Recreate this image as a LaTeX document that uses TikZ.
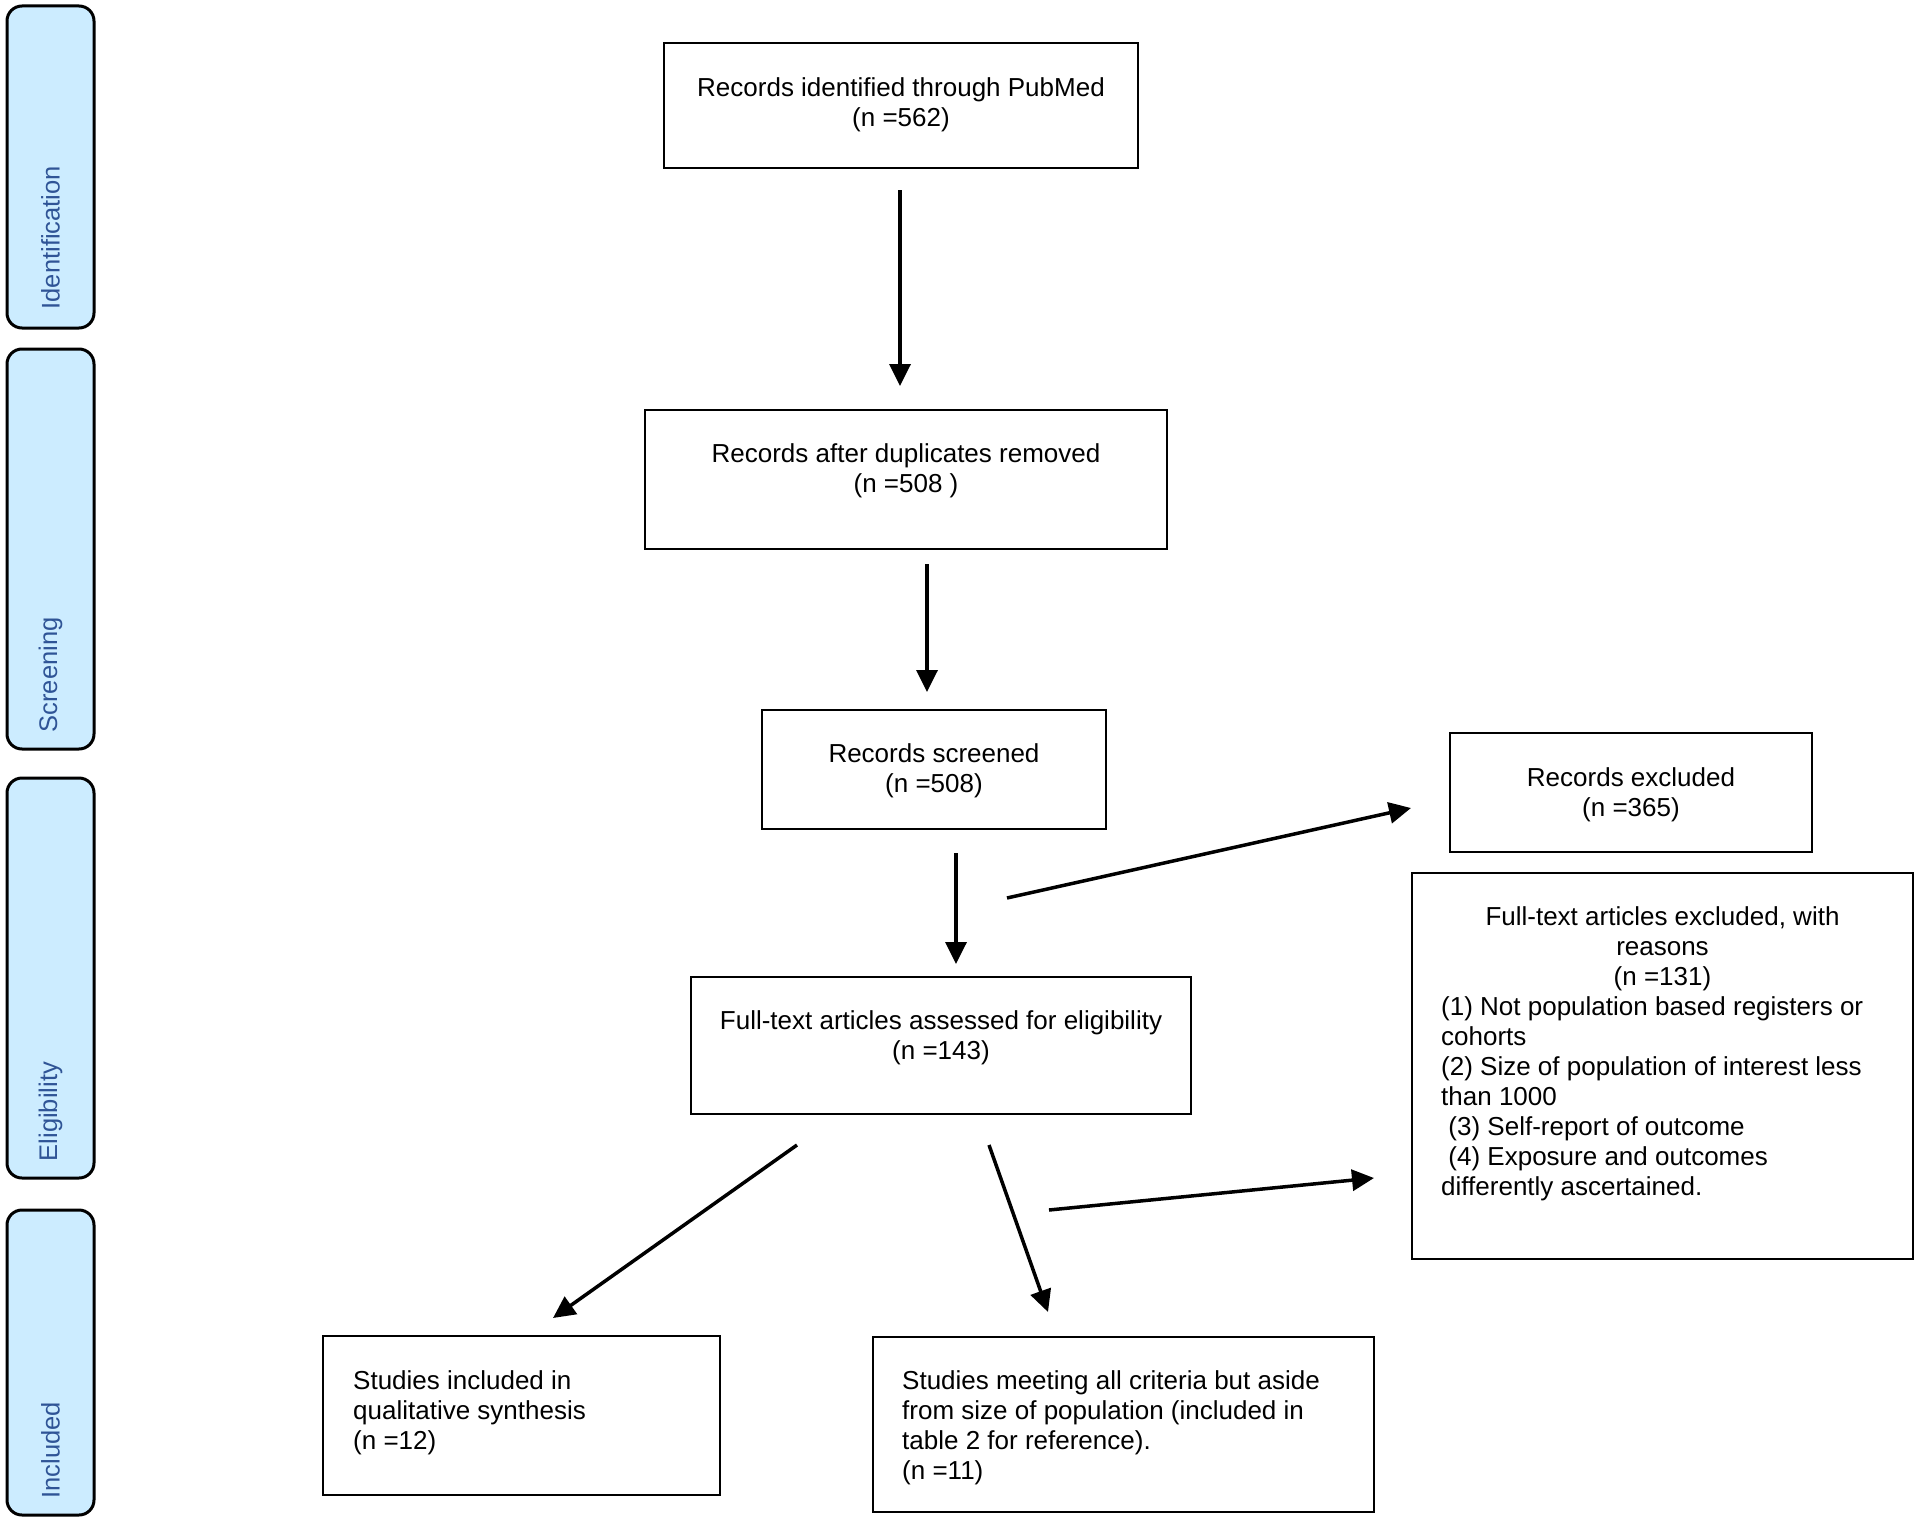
\documentclass[tikz,border=0pt]{standalone}
\usepackage{fontspec}
\setmainfont{Liberation Sans}
\usetikzlibrary{arrows.meta,calc}
\definecolor{sidefill}{RGB}{204,236,255}
\definecolor{sidetext}{RGB}{47,84,150}
\begin{document}
\begin{tikzpicture}[x=1pt,y=-1pt,
  box/.style={draw=black, line width=2.7pt, inner sep=0pt},
  side/.style={draw=black, fill=sidefill, line width=3pt, rounded corners=15pt, inner sep=0pt, minimum width=87pt},
  txt/.style={font=\fontsize{26}{30}\selectfont, inner sep=0pt, align=center},
  ltxt/.style={font=\fontsize{26}{30}\selectfont, inner sep=0pt, align=left, anchor=west},
  stxt/.style={font=\fontsize{25.5}{30}\selectfont, text=sidetext, rotate=90, anchor=west, inner sep=0pt},
  arr/.style={line width=3.5pt, -{Triangle[length=22pt,width=21pt]}}]

\useasboundingbox (0,0) rectangle (1920,1520);

% side phase boxes
\node[side, minimum height=322pt] (s1) at (50.5,167) {};
\node[side, minimum height=400pt] (s2) at (50.5,549) {};
\node[side, minimum height=400pt] (s3) at (50.5,978) {};
\node[side, minimum height=305pt] (s4) at (50.5,1362.5) {};
\node[stxt] (l1) at ($(s1.south)+(0,-20)$) {Identification};
\node[stxt] (l2) at ($(s2.south)+(0,-18)$) {Screening};
\node[stxt] (l3) at ($(s3.south)+(0,-18)$) {Eligibility};
\node[stxt] (l4) at ($(s4.south)+(0,-18)$) {Included};

% boxes
\node[box, minimum width=474pt, minimum height=125pt] (b1) at (901,105.5) {};
\node[box, minimum width=522pt, minimum height=139pt] (b2) at (906,479.5) {};
\node[box, minimum width=344pt, minimum height=119pt] (b3) at (934,769.5) {};
\node[box, minimum width=362pt, minimum height=119pt] (b4) at (1631,792.5) {};
\node[box, minimum width=501pt, minimum height=386pt] (b5) at (1662.5,1066) {};
\node[box, minimum width=500pt, minimum height=137pt] (b6) at (941,1045.5) {};
\node[box, minimum width=397pt, minimum height=159pt] (b7) at (521.5,1415.5) {};
\node[box, minimum width=501pt, minimum height=175pt] (b8) at (1123.5,1424.5) {};

% texts
\node[txt] (t1) at (901,104.5) {Records identified through PubMed\\(n =562)};
\node[txt] (t2) at (906,470.5) {Records after duplicates removed\\(n =508 )};
\node[txt] (t3) at (934,771) {Records screened\\(n =508)};
\node[txt] (t4) at (1631,794.5) {Records excluded\\(n =365)};
\node[txt] (t5a) at (1662.5,949) {Full-text articles excluded, with\\reasons\\(n =131)};
\node[ltxt] (t5b) at (1441,1099) {(1) Not population based registers or\\cohorts\\(2) Size of population of interest less\\than 1000\\\hspace*{0.28em}(3) Self-report of outcome\\\hspace*{0.28em}(4) Exposure and outcomes\\differently ascertained.};
\node[txt] (t6) at (941,1038) {Full-text articles assessed for eligibility\\(n =143)};
\node[ltxt] (t7) at (353,1413) {Studies included in\\qualitative synthesis\\(n =12)};
\node[ltxt] (t8) at (902,1428) {Studies meeting all criteria but aside\\from size of population (included in\\table 2 for reference).\\(n =11)};

% arrow end points
\coordinate (a1s) at (900,190);  \coordinate (a1e) at (900,386);
\coordinate (a2s) at (927,564);  \coordinate (a2e) at (927,692);
\coordinate (a3s) at (956,853);  \coordinate (a3e) at (956,964);
\coordinate (a4s) at (1007,898); \coordinate (a4e) at (1411,808);
\coordinate (a5s) at (797,1145); \coordinate (a5e) at (553,1318);
\coordinate (a6s) at (989,1145); \coordinate (a6e) at (1048,1312);
\coordinate (a7s) at (1049,1210);\coordinate (a7e) at (1374,1178);

\draw[arr] (a1s) -- (a1e);
\draw[arr] (a2s) -- (a2e);
\draw[arr] (a3s) -- (a3e);
\draw[arr] (a4s) -- (a4e);
\draw[arr] (a5s) -- (a5e);
\draw[arr] (a6s) -- (a6e);
\draw[arr] (a7s) -- (a7e);
\end{tikzpicture}
\end{document}
